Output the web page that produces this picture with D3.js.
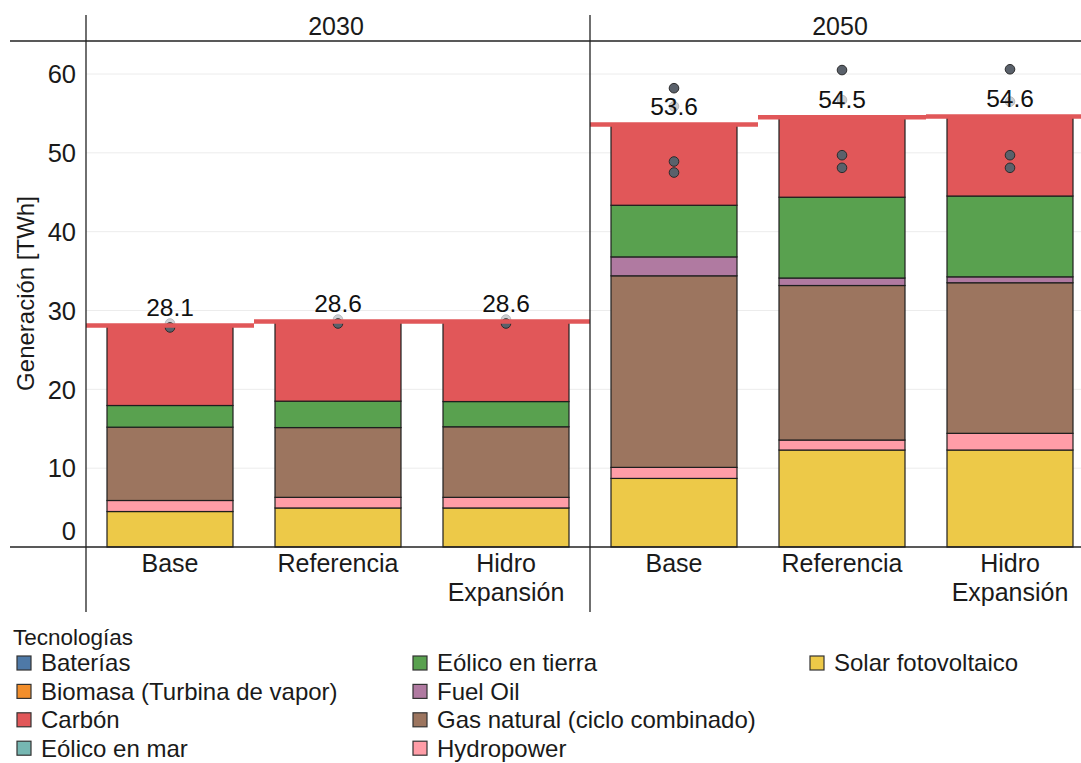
<!DOCTYPE html>
<html>
<head>
<meta charset="utf-8">
<script src="https://cdn.jsdelivr.net/npm/d3@7"></script>
<style>
  html, body { margin: 0; padding: 0; background: #fff; }
  svg { display: block; font-family: "Liberation Sans", Arial, sans-serif; }
</style>
</head>
<body>
<svg id="chart" width="1081" height="763"></svg>
<script>
// Generación eléctrica por tecnología, escenario y año
const years = ["2030", "2050"];
const scenarios = ["Base", "Referencia", "Hidro Expansión"];
const technologies = [
  "Baterías", "Biomasa (Turbina de vapor)", "Carbón", "Eólico en mar",
  "Eólico en tierra", "Fuel Oil", "Gas natural (ciclo combinado)",
  "Hydropower", "Solar fotovoltaico"
];
const techColors = [
  "#4e79a7", "#f28e2b", "#e15759", "#76b7b2",
  "#59a14f", "#b07aa1", "#9c755f", "#ff9da7", "#edc948"
];

// TWh, ordered: 2030 Base, 2030 Referencia, 2030 Hidro, 2050 Base, 2050 Referencia, 2050 Hidro
const bateriasTWh     = [0, 0, 0, 0, 0, 0];
const biomasaTWh      = [0, 0, 0, 0, 0, 0];
const carbonTWh       = [10.15, 10.1, 10.15, 10.25, 10.13, 10.08];
const eolicoMarTWh    = [0, 0, 0, 0, 0, 0];
const eolicoTierraTWh = [2.75, 3.35, 3.2, 6.55, 10.25, 10.25];
const fuelOilTWh      = [0, 0, 0, 2.4, 0.95, 0.75];
const gasNaturalTWh   = [9.3, 8.85, 8.95, 24.3, 19.6, 19.1];
const hydropowerTWh   = [1.4, 1.35, 1.35, 1.4, 1.27, 2.12];
const solarTWh        = [4.5, 4.95, 4.95, 8.7, 12.3, 12.3];

// Puntos adicionales por barra (TWh): marcadores tenues y marcadores sólidos
const markersFadedTWh = [[28.35], [28.85], [28.85], [55.9], [56.7], [56.5]];
const markersSolidTWh = [
  [27.85], [28.35], [28.35],
  [58.2, 48.9, 47.5], [60.5, 49.7, 48.1], [60.6, 49.7, 48.1]
];

const yTicks = [0, 10, 20, 30, 40, 50, 60];

const seriesValues = [
  bateriasTWh, biomasaTWh, carbonTWh, eolicoMarTWh, eolicoTierraTWh,
  fuelOilTWh, gasNaturalTWh, hydropowerTWh, solarTWh
];

// Rows: one per bar
const rows = [];
years.forEach((yr, yi) => scenarios.forEach((sc, si) => {
  const idx = yi * scenarios.length + si;
  const row = { year: yr, scenario: sc, idx };
  technologies.forEach((t, ti) => { row[t] = seriesValues[ti][idx]; });
  row.total = d3.sum(technologies, t => row[t]);
  row.faded = markersFadedTWh[idx];
  row.solid = markersSolidTWh[idx];
  rows.push(row);
}));

// Stack order from bottom: reverse of legend order
const stackKeys = technologies.slice().reverse();
const color = d3.scaleOrdinal(technologies, techColors);

const svg = d3.select("#chart");
const W = 1081, H = 763;

const panelLeft = 86, panelW = 504, stripTop = 15, stripLine = 41, baseY = 547, panelBottom = 612;

const y = d3.scaleLinear().domain([0, 60]).range([baseY, 74]);
const fx = d3.scaleBand().domain(years).range([panelLeft, panelLeft + 2 * panelW]);
const x = d3.scaleBand().domain(scenarios).range([0, panelW]).paddingInner(0.25).paddingOuter(0.125);
const xFull = d3.scaleBand().domain(scenarios).range([0, panelW]);
const cx = r => fx(r.year) + xFull(r.scenario) + xFull.bandwidth() / 2;

// Gridlines
const grid = svg.append("g");
years.forEach(yr => {
  grid.selectAll(null).data(yTicks.filter(t => t > 0)).enter().append("line")
    .attr("x1", fx(yr)).attr("x2", Math.min(fx(yr) + panelW, W))
    .attr("y1", d => y(d)).attr("y2", d => y(d))
    .attr("stroke", "#ececec").attr("stroke-width", 1);
});

// Y tick labels (zero label lifted clear of the baseline)
svg.append("g").selectAll("text").data(yTicks).enter().append("text")
  .attr("x", 76).attr("y", d => d === 0 ? y(d) - 16 : y(d))
  .attr("dy", "0.36em").attr("text-anchor", "end")
  .attr("font-size", 25.5).attr("fill", "#1a1a1a")
  .text(d => d);

// Y axis title
svg.append("text")
  .attr("transform", `translate(34,${(y(0) + y(60)) / 2 - 17}) rotate(-90)`)
  .attr("text-anchor", "middle").attr("font-size", 24).attr("fill", "#1a1a1a")
  .text("Generación [TWh]");

// Stacks
const layers = d3.stack().keys(stackKeys)(rows);

const barG = svg.append("g");
layers.forEach(layer => {
  barG.selectAll(null).data(layer.filter(d => d[1] - d[0] > 0)).enter().append("rect")
    .attr("x", d => fx(d.data.year) + x(d.data.scenario))
    .attr("width", x.bandwidth())
    .attr("y", d => y(d[1]))
    .attr("height", d => y(d[0]) - y(d[1]))
    .attr("fill", color(layer.key))
    .attr("stroke", "#1e1e1e").attr("stroke-width", 1.2);
});

// Markers
const markG = svg.append("g");
rows.forEach(r => {
  markG.selectAll(null).data(r.faded).enter().append("circle")
    .attr("cx", cx(r)).attr("cy", d => y(d)).attr("r", 4.8)
    .attr("fill", "#cdd0d4").attr("stroke", "#b8bbc0").attr("stroke-width", 1);
});
rows.forEach(r => {
  markG.selectAll(null).data(r.solid).enter().append("circle")
    .attr("cx", cx(r)).attr("cy", d => y(d)).attr("r", 4.8)
    .attr("fill", "#5a616b").attr("stroke", "#2b2b2b").attr("stroke-width", 1);
});

// Total lines spanning each band
svg.append("g").selectAll("line").data(rows).enter().append("line")
  .attr("x1", d => fx(d.year) + xFull(d.scenario))
  .attr("x2", d => Math.min(fx(d.year) + xFull(d.scenario) + xFull.bandwidth(), W))
  .attr("y1", d => y(d.total)).attr("y2", d => y(d.total))
  .attr("stroke", "#e15759").attr("stroke-width", 4.5);

// Total labels
svg.append("g").selectAll("text").data(rows).enter().append("text")
  .attr("x", d => cx(d))
  .attr("y", d => y(d.total) - 9.5)
  .attr("text-anchor", "middle").attr("font-size", 24.5).attr("fill", "#111")
  .text(d => d.total.toFixed(1));

// Facet strip labels
svg.append("g").selectAll("text").data(years).enter().append("text")
  .attr("x", d => fx(d) + panelW / 2 - 2).attr("y", 35)
  .attr("text-anchor", "middle").attr("font-size", 25).attr("fill", "#1a1a1a")
  .text(d => d);

// X category labels
years.forEach(yr => {
  scenarios.forEach(sc => {
    const px = fx(yr) + xFull(sc) + xFull.bandwidth() / 2;
    const t = svg.append("text")
      .attr("x", px).attr("y", 572).attr("text-anchor", "middle")
      .attr("font-size", 25).attr("fill", "#1a1a1a");
    sc.split(" ").forEach((w, i) => t.append("tspan")
      .attr("x", px).attr("dy", i === 0 ? 0 : 29).text(w));
  });
});

// Frame lines
const frame = svg.append("g").attr("stroke", "#222").attr("stroke-width", 1.3);
frame.append("line").attr("x1", 10).attr("x2", W).attr("y1", stripLine).attr("y2", stripLine);
frame.append("line").attr("x1", 10).attr("x2", W).attr("y1", baseY).attr("y2", baseY);
years.forEach(yr => {
  frame.append("line").attr("x1", fx(yr)).attr("x2", fx(yr)).attr("y1", stripTop).attr("y2", panelBottom);
});

// Legend
const legend = svg.append("g");
legend.append("text").attr("x", 13).attr("y", 645)
  .attr("font-size", 22.5).attr("fill", "#1a1a1a").text("Tecnologías");
const colX = [17, 413, 810];
technologies.forEach((t, i) => {
  const col = Math.floor(i / 4), row = i % 4;
  const gy = 663 + row * 28.4;
  legend.append("rect")
    .attr("x", colX[col]).attr("y", gy - 7).attr("width", 14).attr("height", 14)
    .attr("fill", color(t)).attr("stroke", "#333").attr("stroke-width", 1.2);
  legend.append("text")
    .attr("x", colX[col] + 24).attr("y", gy).attr("dy", "0.35em")
    .attr("font-size", 24).attr("fill", "#1a1a1a").text(t);
});
</script>
</body>
</html>
